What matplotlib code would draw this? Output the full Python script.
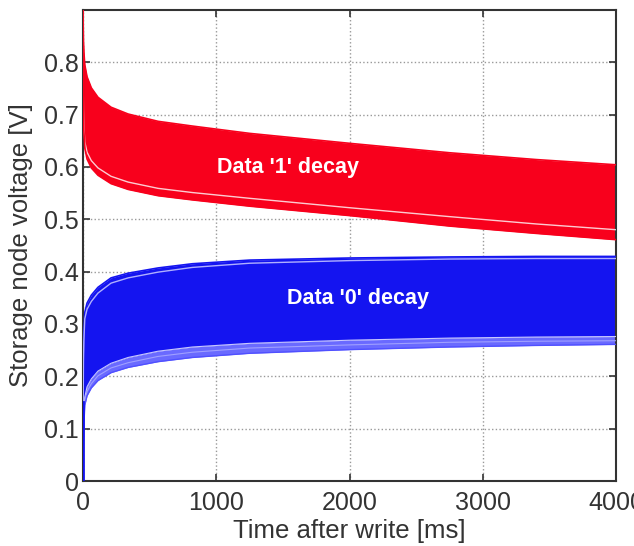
import matplotlib
matplotlib.use('Agg')
import matplotlib.pyplot as plt

plt.rcParams['font.family'] = ['Liberation Sans', 'DejaVu Sans']

# time after write [ms]
t = [0, 1, 3, 6, 13, 30, 62, 112, 210, 338, 563, 820, 1250, 2000, 2750, 3400, 4000]

# data '1' band (red)
red_top = [0.9, 0.87, 0.84, 0.82, 0.795, 0.772, 0.751, 0.733, 0.714, 0.701, 0.687, 0.678, 0.664, 0.645, 0.627, 0.614, 0.604]
red_low = [0.9, 0.76, 0.71, 0.68, 0.648, 0.628, 0.612, 0.598, 0.582, 0.571, 0.559, 0.551, 0.54, 0.522, 0.505, 0.491, 0.48]
red_out = [0.9, 0.75, 0.70, 0.67, 0.636, 0.615, 0.598, 0.584, 0.568, 0.557, 0.545, 0.537, 0.525, 0.507, 0.487, 0.473, 0.461]

# data '0' band (blue)
blue_top = [0.0, 0.16, 0.24, 0.28, 0.322, 0.34, 0.355, 0.37, 0.388, 0.397, 0.407, 0.415, 0.422, 0.426, 0.428, 0.429, 0.429]
blue_in = [0.0, 0.15, 0.228, 0.268, 0.31, 0.328, 0.343, 0.359, 0.378, 0.388, 0.399, 0.408, 0.416, 0.421, 0.424, 0.425, 0.425]
blue_low = [0.0, 0.07, 0.10, 0.125, 0.16, 0.18, 0.195, 0.21, 0.225, 0.236, 0.248, 0.256, 0.263, 0.269, 0.273, 0.275, 0.276]
blue_mid = [0.0, 0.06, 0.09, 0.115, 0.152, 0.171, 0.186, 0.201, 0.216, 0.226, 0.238, 0.246, 0.254, 0.26, 0.265, 0.267, 0.268]
blue_out = [0.0, 0.05, 0.08, 0.105, 0.145, 0.163, 0.178, 0.192, 0.207, 0.217, 0.228, 0.236, 0.244, 0.251, 0.256, 0.259, 0.261]

red = '#f8001c'
blue = '#1414f0'

fig = plt.figure(figsize=(6.34, 5.46), dpi=100)
ax = fig.add_axes([0.131, 0.119, 0.841, 0.863])

ax.fill_between(t, red_out, red_top, color=red, lw=0, zorder=2)
ax.plot(t, red_top, color=red, lw=1.2, zorder=3)
ax.plot(t, red_low, color='white', lw=1.0, alpha=0.8, zorder=3)
ax.plot(t, red_out, color=red, lw=1.2, zorder=3)

ax.fill_between(t, blue_low, blue_top, color=blue, lw=0, zorder=2)
ax.fill_between(t, blue_out, blue_low, color='#6a6aff', lw=0, zorder=2)
ax.plot(t, blue_top, color=blue, lw=1.2, zorder=3)
ax.plot(t, blue_in, color='#b0b0ff', lw=1.0, zorder=3)
ax.plot(t, blue_low, color='#c8c8ff', lw=0.8, zorder=3)
ax.plot(t, blue_mid, color='#a0a0ff', lw=0.8, zorder=3)
ax.plot(t, blue_out, color='#5050ff', lw=1.0, zorder=3)
ax.plot([0, 0], [0, 0.15], color=blue, lw=2, zorder=3)

ax.text(1540, 0.598, "Data '1' decay", color='white', fontsize=15.5,
        fontweight='bold', ha='center', va='center', zorder=4)
ax.text(2060, 0.348, "Data '0' decay", color='white', fontsize=15.5,
        fontweight='bold', ha='center', va='center', zorder=4)

ax.set_xlim(0, 4000)
ax.set_ylim(0, 0.9)
ax.set_xticks([0, 1000, 2000, 3000, 4000])
ax.set_xticklabels(['0', '1000', '2000', '3000', '4000'])
ax.set_yticks([0, 0.1, 0.2, 0.3, 0.4, 0.5, 0.6, 0.7, 0.8])
ax.set_yticklabels(['0', '0.1', '0.2', '0.3', '0.4', '0.5', '0.6', '0.7', '0.8'])
ax.grid(True, linestyle=':', color='#999999', lw=1.0, zorder=0)
ax.tick_params(direction='in', top=True, right=True, length=5, width=1.2,
               labelsize=18, colors='#333333', labelcolor='#333333')
ax.tick_params(axis='x', pad=7)
ax.tick_params(axis='y', pad=3)
for s in ax.spines.values():
    s.set_linewidth(1.5)
    s.set_color('#333333')

ax.set_xlabel('Time after write [ms]', fontsize=18.5, color='#333333', labelpad=3)
ax.set_ylabel('Storage node voltage [V]', fontsize=18.5, color='#333333', labelpad=8)

fig.savefig('out.png', dpi=100)
